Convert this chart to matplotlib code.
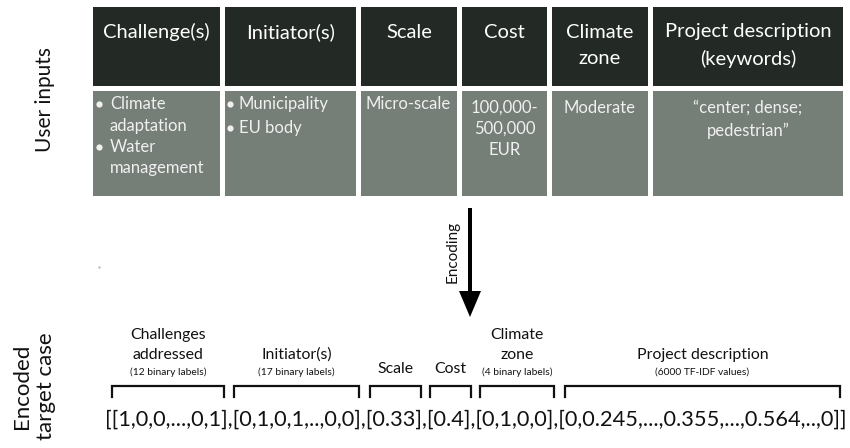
import matplotlib.pyplot as plt
from matplotlib.patches import Rectangle, FancyArrow

plt.rcParams['font.family'] = ['Lato', 'DejaVu Sans']

# contents of the diagram
headers = ['Challenge(s)', 'Initiator(s)', 'Scale', 'Cost', 'Climate\nzone',
           'Project description\n(keywords)']
challenges = ['Climate\nadaptation', 'Water\nmanagement']
initiators = ['Municipality', 'EU body']
scale = 'Micro-scale'
cost = '100,000-\n500,000\nEUR'
climate = 'Moderate'
keywords = '\u201ccenter; dense;\npedestrian\u201d'
enc_titles = ['Challenges\naddressed', 'Initiator(s)', 'Scale', 'Cost',
              'Climate\nzone', 'Project description']
enc_notes = ['(12 binary labels)', '(17 binary labels)', '', '',
             '(4 binary labels)', '(6000 TF-IDF values)']
enc_values = ['[1,0,0,...,0,1]', '[0,1,0,1,..,0,0]', '[0.33]', '[0.4]',
              '[0,1,0,0]', '[0,0.245,...,0.355,...,0.564,..,0]']

# layout in pixels
col_l = [93, 225, 361, 462, 552, 653]
col_r = [220, 356, 457, 547, 648, 843]
br_l = [112, 234, 370, 430, 480, 565]
br_r = [224, 359, 421, 471, 554, 840]
dark = '#232a26'
grey = '#767e78'
ink = '#111111'
tcol = '#f0f0f0'


def lines(ax, x, y0, step, text, **kw):
    # one text per line so spacing matches the picture
    for k, s in enumerate(text.split('\n')):
        ax.text(x, y0 + k * step, s, va='center', **kw)


dpi = 100
fig = plt.figure(figsize=(8.5, 4.48), dpi=dpi)
ax = fig.add_axes([0, 0, 1, 1])
ax.set_xlim(0, 850)
ax.set_ylim(448, 0)
ax.axis('off')

for i in range(6):
    w = col_r[i] - col_l[i]
    ax.add_patch(Rectangle((col_l[i], 7), w, 79, color=dark, lw=0))
    ax.add_patch(Rectangle((col_l[i], 91), w, 105, color=grey, lw=0))
    cx = (col_l[i] + col_r[i]) / 2
    lines(ax, cx, 32, 27, headers[i], color='white', fontsize=14.5,
          ha='center')

# grey row texts
fs = 12
for k, item in enumerate(challenges):
    y = 104 + k * 43
    ax.plot([99], [y], marker='o', ms=4.5, color=tcol, mew=0)
    lines(ax, 110, y, 21.5, item, color=tcol, fontsize=fs, ha='left')
for k, item in enumerate(initiators):
    y = 104 + k * 24
    ax.plot([230], [y], marker='o', ms=4.5, color=tcol, mew=0)
    ax.text(239, y, item, color=tcol, fontsize=fs, va='center')
ax.text(366, 104, scale, color=tcol, fontsize=fs, va='center')
lines(ax, (col_l[3] + col_r[3]) / 2, 108, 21, cost, color=tcol, fontsize=fs,
      ha='center')
ax.text((col_l[4] + col_r[4]) / 2, 108, climate, color=tcol, fontsize=fs,
        ha='center', va='center')
lines(ax, (col_l[5] + col_r[5]) / 2, 108, 23, keywords, color=tcol,
      fontsize=fs, ha='center')

ax.text(45, 100, 'User inputs', rotation=90, fontsize=15, ha='center',
        va='center', color=ink)
ax.text(34, 386, 'Encoded\ntarget case', rotation=90, fontsize=16,
        ha='center', va='center', color=ink, linespacing=1.3)

# arrow
ax.add_patch(FancyArrow(470, 208, 0, 109, width=4, head_width=22,
                        head_length=26, length_includes_head=True,
                        color='black', lw=0))
ax.text(453, 252, 'Encoding', rotation=90, fontsize=11, ha='center',
        va='center', color=ink)
ax.plot([99], [267], marker='.', ms=1.5, color='#bbbbbb')

# brackets and labels
for i in range(6):
    x0, x1 = br_l[i], br_r[i]
    ax.plot([x0, x0, x1, x1], [397, 386, 386, 397], color=ink, lw=1.6,
            solid_joinstyle='miter')
    cx = (x0 + x1) / 2
    if enc_notes[i]:
        tl = enc_titles[i].split('\n')
        for k, s in enumerate(reversed(tl)):
            ax.text(cx, 355 - 20 * k, s, fontsize=11.4, ha='center',
                    va='center', color=ink)
        ax.text(cx, 372, enc_notes[i], fontsize=7.4, ha='center',
                va='center', color=ink)
    else:
        ax.text(cx, 369, enc_titles[i], fontsize=11.4, ha='center',
                va='center', color=ink)

vec = ax.text(105, 420, '[' + ','.join(enc_values) + ']', fontsize=16,
              ha='left', va='center', color=ink)
fig.canvas.draw()
bb = vec.get_window_extent()
vec.set_fontsize(16 * 745 / bb.width)

fig.savefig('out.png', dpi=dpi)
